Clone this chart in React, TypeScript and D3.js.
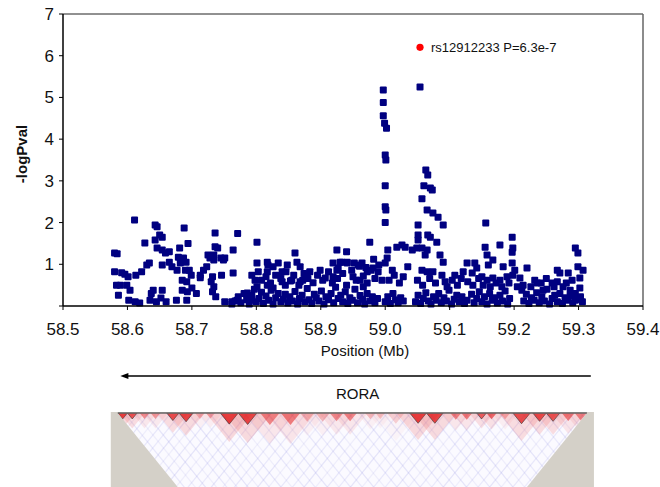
import React from "react";
import * as d3 from "d3";

// axis ticks
const xTicks = [58.5, 58.6, 58.7, 58.8, 58.9, 59.0, 59.1, 59.2, 59.3, 59.4];
const yTicks = [0, 1, 2, 3, 4, 5, 6, 7];

// [position (Mb), -log10 P]
const snps: [number, number][] = [
  // 58.58 - 58.70
  [58.580, 1.27], [58.584, 1.25], [58.580, 0.82], [58.583, 0.50], [58.586, 0.26], [58.591, 0.80],
  [58.596, 0.76], [58.601, 0.70], [58.589, 0.50], [58.599, 0.50], [58.604, 0.38], [58.602, 0.14],
  [58.612, 0.10], [58.619, 0.07], [58.635, 0.14], [58.645, 0.10], [58.652, 0.19], [58.660, 0.10],
  [58.611, 2.06], [58.613, 0.74], [58.622, 0.82], [58.630, 0.98], [58.634, 1.03], [58.627, 1.51],
  [58.643, 1.94], [58.646, 1.90], [58.650, 1.70], [58.654, 1.65], [58.643, 1.58], [58.646, 1.39],
  [58.654, 1.34], [58.659, 1.27], [58.665, 1.30], [58.654, 0.98], [58.665, 1.05], [58.669, 0.94],
  [58.677, 0.86], [58.682, 1.03], [58.640, 0.38], [58.637, 0.30], [58.654, 0.38], [58.681, 1.39],
  [58.679, 1.17], [58.687, 1.15], [58.691, 1.05], [58.688, 1.87], [58.694, 1.50], [58.690, 0.86],
  [58.696, 0.86], [58.699, 0.74], [58.685, 0.62], [58.692, 0.58], [58.685, 0.38], [58.693, 0.34],
  [58.700, 0.43], [58.707, 0.30], [58.676, 0.14], [58.692, 0.14],
  // 58.70 - 58.80
  [58.713, 0.74], [58.713, 0.68], [58.718, 0.86], [58.723, 0.94], [58.728, 1.15], [58.725, 1.22],
  [58.734, 1.10], [58.736, 1.75], [58.736, 1.42], [58.740, 1.39], [58.734, 1.22], [58.745, 1.15],
  [58.749, 1.10], [58.751, 1.15], [58.732, 0.70], [58.730, 0.58], [58.734, 0.46], [58.737, 0.22],
  [58.732, 0.34], [58.746, 0.74], [58.764, 1.34], [58.764, 0.79], [58.771, 1.74], [58.751, 0.10],
  [58.762, 0.10], [58.770, 0.14], [58.801, 1.53], [58.801, 1.03], [58.803, 0.82], [58.793, 0.74],
  [58.798, 0.62], [58.786, 0.31], [58.790, 0.22], [58.793, 0.14],
  // 58.80 - 58.99
  [58.817, 1.05], [58.818, 0.98], [58.826, 0.94], [58.834, 1.03], [58.840, 0.82], [58.848, 0.98],
  [58.860, 1.27], [58.863, 1.05], [58.868, 0.94], [58.817, 0.82], [58.817, 0.50], [58.801, 0.46],
  [58.826, 0.43], [58.840, 0.58], [58.845, 0.50], [58.855, 0.62], [58.868, 0.58], [58.872, 0.62],
  [58.883, 0.82], [58.899, 0.86], [58.907, 0.67], [58.919, 0.70], [58.927, 0.91], [58.933, 1.05],
  [58.941, 1.05], [58.919, 1.03], [58.930, 1.05], [58.941, 1.03], [58.925, 0.86], [58.925, 1.34],
  [58.940, 1.30], [58.976, 1.53], [58.972, 0.82], [58.981, 0.91], [58.989, 0.82], [58.995, 0.62],
  [58.950, 0.70], [58.961, 0.62], [58.966, 0.46], [58.952, 1.03], [58.958, 0.98], [58.964, 1.03],
  [58.970, 0.92], [58.982, 1.12], [58.990, 0.98],
  // peak at 59.0
  [58.997, 5.18], [58.997, 4.88], [58.997, 4.56], [58.999, 4.38], [59.002, 4.26], [59.000, 3.62],
  [59.001, 3.50], [59.000, 2.88], [59.000, 2.38], [59.001, 2.30], [59.000, 2.00],
  [59.004, 1.34], [59.018, 1.41], [59.026, 1.46], [59.031, 1.41], [59.003, 1.15], [59.000, 1.03],
  [59.011, 0.86], [59.035, 0.94],
  // 59.04 - 59.10
  [59.054, 5.25], [59.042, 1.34], [59.049, 1.39], [59.057, 1.39], [59.065, 1.34], [59.062, 1.22],
  [59.051, 1.58], [59.051, 1.70], [59.066, 1.70], [59.070, 1.65], [59.051, 1.94], [59.065, 2.30],
  [59.074, 2.23], [59.082, 2.13], [59.090, 1.94], [59.063, 3.26], [59.066, 3.14], [59.060, 2.88],
  [59.070, 2.83], [59.073, 2.78], [59.057, 2.57], [59.080, 1.53], [59.085, 1.22], [59.090, 1.05],
  [59.057, 0.86], [59.065, 0.82], [59.074, 0.82], [59.088, 0.74], [59.093, 0.58],
  // 59.10 - 59.32
  [59.108, 0.74], [59.121, 0.82], [59.127, 1.03], [59.139, 1.03], [59.142, 0.91], [59.135, 0.79],
  [59.156, 1.99], [59.155, 1.41], [59.158, 1.22], [59.167, 1.10], [59.160, 0.98], [59.178, 1.46],
  [59.197, 1.65], [59.198, 1.39], [59.197, 1.29], [59.197, 1.03], [59.183, 0.94], [59.201, 0.86],
  [59.220, 0.91], [59.150, 0.70], [59.158, 0.62], [59.167, 0.67], [59.178, 0.62], [59.189, 0.70],
  [59.198, 0.74], [59.209, 0.67], [59.214, 0.50], [59.236, 0.55], [59.245, 0.38], [59.259, 0.55],
  [59.267, 0.86], [59.271, 0.79], [59.284, 0.79], [59.295, 1.39], [59.299, 1.27], [59.299, 0.94],
  [59.307, 0.86], [59.302, 0.67], [59.302, 0.43], [59.267, 0.58], [59.276, 0.46], [59.287, 0.38],
  [59.295, 0.14],
  // mid band
  [58.808, 0.62], [58.815, 0.70], [58.822, 0.55], [58.830, 0.74], [58.838, 0.66], [58.846, 0.82],
  [58.853, 0.60], [58.858, 0.74], [58.866, 0.50], [58.874, 0.78], [58.880, 0.66], [58.888, 0.56],
  [58.895, 0.74], [58.903, 0.62], [58.912, 0.82], [58.918, 0.55], [58.926, 0.66], [58.934, 0.78],
  [58.940, 0.50], [58.948, 0.86], [58.955, 0.62], [58.960, 0.95], [58.966, 0.72], [58.972, 0.55],
  [58.978, 0.86], [58.984, 0.66], [59.006, 0.62], [59.014, 0.74], [59.022, 0.55], [59.028, 0.70],
  [59.050, 0.62], [59.058, 0.50], [59.069, 0.66], [59.078, 0.55], [59.096, 0.46], [59.104, 0.62],
  [59.112, 0.50], [59.118, 0.66], [59.128, 0.58], [59.136, 0.50], [59.145, 0.66], [59.152, 0.50],
  [59.163, 0.46], [59.172, 0.55], [59.181, 0.46], [59.192, 0.55], [59.205, 0.46], [59.212, 0.38],
  [59.226, 0.46], [59.232, 0.62], [59.242, 0.55], [59.250, 0.66], [59.262, 0.46], [59.281, 0.55],
  [59.290, 0.62],
  // low band
  [58.762, 0.05], [58.767, 0.12], [58.772, 0.22], [58.776, 0.08], [58.781, 0.30], [58.785, 0.15],
  [58.789, 0.05], [58.793, 0.26], [58.797, 0.40], [58.800, 0.10], [58.804, 0.18], [58.808, 0.33],
  [58.811, 0.06], [58.815, 0.24], [58.819, 0.14], [58.823, 0.38], [58.826, 0.05], [58.830, 0.20],
  [58.834, 0.30], [58.838, 0.10], [58.842, 0.16], [58.845, 0.28], [58.849, 0.07], [58.852, 0.22],
  [58.856, 0.12], [58.860, 0.35], [58.864, 0.05], [58.867, 0.18], [58.871, 0.26], [58.875, 0.10],
  [58.879, 0.42], [58.882, 0.15], [58.886, 0.06], [58.890, 0.28], [58.893, 0.20], [58.897, 0.12],
  [58.901, 0.36], [58.905, 0.05], [58.908, 0.22], [58.912, 0.15], [58.916, 0.30], [58.920, 0.08],
  [58.923, 0.45], [58.927, 0.18], [58.931, 0.26], [58.934, 0.10], [58.938, 0.34], [58.942, 0.06],
  [58.945, 0.20], [58.949, 0.14], [58.953, 0.40], [58.957, 0.08], [58.961, 0.25], [58.965, 0.16],
  [58.968, 0.05], [58.972, 0.30], [58.976, 0.12], [58.980, 0.22], [58.984, 0.08], [58.988, 0.18],
  [59.000, 0.10], [59.004, 0.22], [59.008, 0.06], [59.012, 0.30], [59.016, 0.15], [59.020, 0.08],
  [59.024, 0.20], [59.028, 0.12], [59.047, 0.10], [59.051, 0.26], [59.055, 0.06], [59.059, 0.18],
  [59.063, 0.32], [59.067, 0.12], [59.071, 0.05], [59.075, 0.22], [59.079, 0.14], [59.083, 0.30],
  [59.087, 0.08], [59.091, 0.20], [59.095, 0.12], [59.099, 0.38], [59.103, 0.05], [59.107, 0.16],
  [59.111, 0.26], [59.115, 0.10], [59.119, 0.22], [59.123, 0.06], [59.127, 0.14], [59.134, 0.28],
  [59.138, 0.08], [59.142, 0.18], [59.146, 0.34], [59.150, 0.10], [59.154, 0.22], [59.158, 0.05],
  [59.162, 0.30], [59.166, 0.14], [59.170, 0.20], [59.174, 0.07], [59.178, 0.26], [59.182, 0.12],
  [59.186, 0.36], [59.190, 0.05], [59.193, 0.18], [59.215, 0.12], [59.219, 0.28], [59.223, 0.06],
  [59.227, 0.20], [59.231, 0.14], [59.235, 0.32], [59.239, 0.08], [59.243, 0.22], [59.247, 0.12],
  [59.251, 0.40], [59.255, 0.05], [59.259, 0.18], [59.263, 0.26], [59.267, 0.10], [59.271, 0.30],
  [59.275, 0.06], [59.279, 0.20], [59.283, 0.14], [59.287, 0.24], [59.291, 0.08], [59.295, 0.30],
  [59.299, 0.16], [59.303, 0.22], [59.306, 0.10],
];

const topSnp = { pos: 59.054, logP: 6.2, label: "rs12912233 P=6.3e-7" };
const gene = { name: "RORA", start: 58.589, end: 59.319 };

// LD plot: SNP span, blocks [start, end, strength], faint streaks [position, strength]
const ldSpan = [58.585, 59.313];
const ldBlocks: [number, number, number][] = [
  [58.585, 58.600, 0.95], [58.600, 58.615, 0.8], [58.619, 58.634, 0.5], [58.636, 58.651, 0.45],
  [58.661, 58.680, 0.85], [58.680, 58.702, 0.9], [58.705, 58.720, 0.3], [58.722, 58.736, 0.35],
  [58.744, 58.772, 0.95], [58.772, 58.801, 0.9], [58.806, 58.836, 0.55], [58.838, 58.868, 0.6],
  [58.868, 58.890, 0.3], [58.892, 58.914, 0.3], [58.914, 58.935, 0.5], [58.935, 58.956, 0.55],
  [58.969, 58.985, 0.3], [58.985, 59.000, 0.25], [59.003, 59.030, 0.2], [59.038, 59.064, 0.95],
  [59.064, 59.090, 0.9], [59.101, 59.118, 0.55], [59.118, 59.135, 0.6], [59.142, 59.157, 0.75],
  [59.157, 59.173, 0.7], [59.178, 59.194, 0.35], [59.198, 59.225, 0.85], [59.229, 59.250, 0.85],
  [59.250, 59.271, 0.8], [59.274, 59.294, 0.6], [59.294, 59.313, 0.55],
];
const ldStreaks: [number, number][] = [
  [58.595, 0.3], [58.612, 0.2], [58.628, 0.35], [58.645, 0.2], [58.661, 0.3], [58.677, 0.25],
  [58.694, 0.35], [58.710, 0.2], [58.727, 0.3], [58.745, 0.35], [58.762, 0.2], [58.781, 0.3],
  [58.798, 0.25], [58.817, 0.35], [58.835, 0.2], [58.853, 0.3], [58.871, 0.25], [58.889, 0.35],
  [58.906, 0.2], [58.925, 0.3], [58.943, 0.25], [58.961, 0.35], [58.979, 0.2], [58.997, 0.3],
  [59.015, 0.25], [59.033, 0.35], [59.051, 0.2], [59.069, 0.3], [59.087, 0.25], [59.105, 0.35],
  [59.123, 0.2], [59.141, 0.3], [59.159, 0.25], [59.177, 0.35], [59.195, 0.2], [59.213, 0.3],
  [59.231, 0.25], [59.249, 0.35], [59.267, 0.2], [59.285, 0.3], [59.303, 0.25],
];

const W = 660;
const H = 487;
const font = "Arial, 'Liberation Sans', sans-serif";
const LD_TOP = 413;
const SLOPE = 0.81; // horizontal px per vertical px of the LD triangle edges

export default function App() {
  const x = d3.scaleLinear().domain([58.5, 59.4]).range([63, 643]);
  const y = d3.scaleLinear().domain([0, 7]).range([306, 14]);
  const [x0, x1] = ldSpan.map(x);
  const mid = (x0 + x1) / 2;
  const triH = (x1 - x0) / 2 / SLOPE;
  const tri = `${x0},${LD_TOP} ${x1},${LD_TOP} ${mid},${LD_TOP + triH}`;
  const arrowY = 376;

  return (
    <svg width={W} height={H} style={{ position: "absolute", left: 0, top: 0 }} fontFamily={font}>
      <rect width={W} height={H} fill="#fff" />
      <defs>
        <clipPath id="ldclip">
          <polygon points={tri} />
        </clipPath>
      </defs>

      {/* plot frame */}
      <line x1={63} x2={643} y1={14} y2={14} stroke="#222" strokeWidth={1} />
      <line x1={643} x2={643} y1={14} y2={306} stroke="#666" strokeWidth={1.5} />

      {/* points */}
      {snps.map(([p, v], i) => (
        <rect key={i} x={x(p) - 3.5} y={y(v) - 3.5} width={7} height={7} rx={1} fill="#000080" />
      ))}
      <circle cx={x(topSnp.pos)} cy={y(topSnp.logP)} r={3.6} fill="#ff0000" />
      <text x={x(topSnp.pos) + 11} y={y(topSnp.logP) + 4.5} fontSize={13} fill="#111">
        {topSnp.label}
      </text>

      {/* axes */}
      <line x1={63} x2={63} y1={14} y2={306} stroke="#000" strokeWidth={1.5} />
      <line x1={63} x2={643} y1={306} y2={306} stroke="#000" strokeWidth={1.5} />
      {yTicks.map((t) => (
        <g key={t}>
          <line x1={59} x2={63} y1={y(t)} y2={y(t)} stroke="#000" />
          {t > 0 && (
            <text x={54} y={y(t) + 6} textAnchor="end" fontSize={17} fill="#111">
              {t}
            </text>
          )}
        </g>
      ))}
      {xTicks.map((t) => (
        <g key={t}>
          <line x1={x(t)} x2={x(t)} y1={306} y2={310} stroke="#000" />
          <text x={x(t)} y={335} textAnchor="middle" fontSize={17} fill="#111">
            {t.toFixed(1)}
          </text>
        </g>
      ))}
      <text x={(63 + 643) / 2 + 12} y={356} textAnchor="middle" fontSize={15} fill="#111">
        Position (Mb)
      </text>
      <text
        transform="translate(27,154) rotate(-90)"
        textAnchor="middle"
        fontSize={15}
        fontWeight="bold"
        fill="#111"
      >
        -logPval
      </text>

      {/* gene arrow */}
      <line x1={x(gene.start) + 6} x2={x(gene.end)} y1={arrowY} y2={arrowY} stroke="#000" strokeWidth={1.3} />
      <polygon
        points={`${x(gene.start)},${arrowY} ${x(gene.start) + 8},${arrowY - 3} ${x(gene.start) + 8},${arrowY + 3}`}
        fill="#000"
      />
      <text x={(x(gene.start) + x(gene.end)) / 2 + 2} y={399} textAnchor="middle" fontSize={15} fill="#111">
        {gene.name}
      </text>

      {/* LD heatmap */}
      <rect x={x0 - 7} y={LD_TOP - 1} width={x1 - x0 + 14} height={H - LD_TOP + 1} fill="#d4d0c8" />
      <polygon points={tri} fill="#fbfaff" />
      <g clipPath="url(#ldclip)">
        {ldStreaks.map(([p, a], i) => {
          const px = x(p);
          const L = 120;
          return (
            <g key={i} stroke={`rgba(160,160,230,${a * 0.7})`} strokeWidth={1.2}>
              <line x1={px} y1={LD_TOP} x2={px + SLOPE * L} y2={LD_TOP + L} />
              <line x1={px + 4} y1={LD_TOP} x2={px + 4 - SLOPE * L} y2={LD_TOP + L} />
            </g>
          );
        })}
        {ldBlocks.map(([s, e, a], i) => {
          const bs = x(s);
          const be = x(e);
          const bm = (bs + be) / 2;
          const w = be - bs;
          const h = w / 2 / SLOPE;
          return (
            <g key={i}>
              <polygon
                points={`${bm - w * 1.3},${LD_TOP} ${bm + w * 1.3},${LD_TOP} ${bm},${LD_TOP + 2.6 * h}`}
                fill={`rgba(235,70,70,${a * 0.2})`}
              />
              <polygon
                points={`${bs},${LD_TOP} ${be},${LD_TOP} ${bm},${LD_TOP + h}`}
                fill={`rgba(225,20,20,${a * 0.85})`}
                stroke={a > 0.7 ? "#333" : "none"}
                strokeWidth={0.6}
              />
            </g>
          );
        })}
      </g>
      <line x1={x0} x2={x1} y1={LD_TOP} y2={LD_TOP} stroke="#666" strokeWidth={1.5} />
    </svg>
  );
}
